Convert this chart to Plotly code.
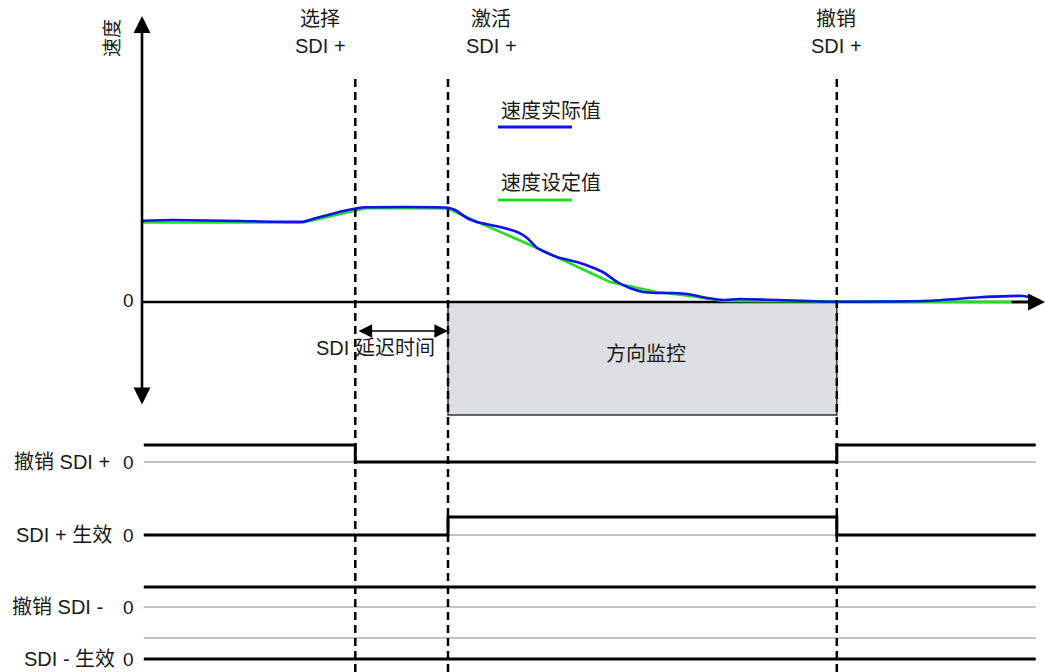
import plotly.graph_objects as go

W, H = 1046, 672

# ---------------- data ----------------
event_labels = ["选择", "激活", "撤销"]
event_sub = ["SDI +", "SDI +", "SDI +"]
event_t = [23.7, 34.0, 77.2]          # select / activate / revoke SDI+

speed_actual_t = [0, 3.4, 10.9, 17.9, 19.0, 22.0, 23.9, 25.0, 34.0, 34.8, 36.1,
                  37.2, 39.8, 41.7, 42.8, 43.9, 46.1, 48.7, 51.2, 52.8, 54.2, 55.7,
                  57.2, 59.0, 60.6, 62.8, 64.6, 66.4, 76.4, 87.6, 93.1, 97.9, 99.0, 99.8]
speed_actual = [81.3, 82, 81, 80.3, 83, 90.3, 93.7, 94.7, 94.3, 92, 84,
                80, 75, 70, 64, 54, 45, 39, 30, 20, 14, 10,
                9, 9, 8, 4, 2, 3, 0.3, 1.3, 4.7, 6, 4, 1]

speed_set_t = [0, 17.9, 25.0, 34.0, 36.4, 43.9, 52.0, 57.2, 60.9, 64.6, 99.8]
speed_set = [79.5, 79.5, 94, 93.5, 83.5, 54, 20, 10, 6, 1, 0]

signal_names = ["撤销 SDI +", "SDI + 生效", "撤销 SDI -", "SDI - 生效"]
signal_t = [[0.2, 23.7, 77.2, 99.3],
            [0.2, 34.0, 77.2, 99.3],
            [0.2, 99.3],
            [0.2, 99.3]]
signal_val = [[1, 0, 1, 1],
              [0, 1, 0, 0],
              [1, 1],
              [0, 0]]
signal_ref = [0, 0, 0, 1]             # level of the thin grey reference line

legend_names = ["速度实际值", "速度设定值"]
monitor_label = "方向监控"
delay_label = "SDI 延迟时间"
speed_label = "速度"

# ---------------- layout constants ----------------
X0, XS = 142, 9.0          # pixel of t=0, pixels per time unit
V0 = 302                   # pixel of speed 0 (1 speed unit = 1 px)
SPLIT = 420                # boundary between speed panel and signal panel
row_zero_px = [462, 535, 607, 659]
row_unit_px = [17, 18, 20, 21]


def tx(px):
    return (px - X0) / XS


def vy(py):
    return V0 - py


FONT = "Liberation Sans, Arial, Noto Sans CJK SC, sans-serif"
TXT = "#1a1a1a"

fig = go.Figure()

# speed curves
fig.add_trace(go.Scatter(x=speed_set_t, y=speed_set, mode="lines",
                         line=dict(color="#1ee01e", width=2.6),
                         xaxis="x", yaxis="y", hoverinfo="skip"))
fig.add_trace(go.Scatter(x=speed_actual_t, y=speed_actual, mode="lines",
                         line=dict(color="#1010f0", width=2.6, shape="spline", smoothing=0.5),
                         xaxis="x", yaxis="y", hoverinfo="skip"))

# signals
for i in range(4):
    ya = "y%d" % (i + 2)
    fig.add_trace(go.Scatter(x=[signal_t[i][0], signal_t[i][-1]],
                             y=[signal_ref[i], signal_ref[i]], mode="lines",
                             line=dict(color="#8a8a8a", width=1.2),
                             xaxis="x", yaxis=ya, hoverinfo="skip"))
    fig.add_trace(go.Scatter(x=signal_t[i], y=signal_val[i], mode="lines",
                             line=dict(color="black", width=3, shape="hv"),
                             xaxis="x", yaxis=ya, hoverinfo="skip"))

shapes = []
# direction monitoring box
shapes.append(dict(type="rect", xref="x", yref="y", x0=event_t[1], x1=event_t[2],
                   y0=0, y1=vy(415), fillcolor="#dcdfe3",
                   line=dict(color="#333333", width=1.5), layer="below"))
# time axis line
shapes.append(dict(type="line", xref="x", yref="y", x0=tx(142), x1=tx(1032), y0=0, y1=0,
                   line=dict(color="black", width=2.6), layer="below"))
# dashed event lines
for t in event_t:
    shapes.append(dict(type="line", xref="x", yref="paper", x0=t, x1=t,
                       y0=0, y1=1 - 78 / H,
                       line=dict(color="black", width=2.5, dash="8px,5px")))
# legend keys
shapes.append(dict(type="line", xref="x", yref="y", x0=tx(498), x1=tx(572),
                   y0=vy(127), y1=vy(127), line=dict(color="#1010f0", width=3)))
shapes.append(dict(type="line", xref="x", yref="y", x0=tx(498), x1=tx(572),
                   y0=vy(200), y1=vy(200), line=dict(color="#1ee01e", width=3)))

ann = []


def arrow(x, y, ax, ay, width, size, both=False):
    ann.append(dict(x=x, y=y, ax=ax, ay=ay, xref="x", yref="y", axref="x", ayref="y",
                    text="", showarrow=True, arrowhead=2, arrowsize=size,
                    arrowwidth=width, arrowcolor="black", standoff=0, startstandoff=0,
                    startarrowhead=2, startarrowsize=size,
                    arrowside="end+start" if both else "end"))


arrow(tx(142), vy(16), tx(142), vy(406), 2.6, 1.3, both=True)   # speed axis
arrow(tx(1045), 0, tx(1010), 0, 2.6, 1.3)                        # time axis head
arrow(tx(144), vy(421), tx(144), vy(672), 2.6, 1.3)              # signal axis
arrow(tx(448), vy(331), tx(357), vy(331), 1.6, 1.7, both=True)   # delay arrow


def text(s, px, py, size=19, xanchor="center", angle=0):
    ann.append(dict(text=s, x=px / W, y=1 - py / H, xref="paper", yref="paper",
                    showarrow=False, xanchor=xanchor, yanchor="middle",
                    textangle=angle, font=dict(family=FONT, size=size, color=TXT)))


text(speed_label, 112, 38, 19, angle=-90)
text("0", 128, 300, 19)
for lbl, sub, cx in zip(event_labels, event_sub, [320, 491, 836]):
    text(lbl, cx, 19, 20)
    text(sub, cx, 46, 20)
text(legend_names[0], 499, 111, 20, xanchor="left")
text(legend_names[1], 499, 183, 20, xanchor="left")
text(monitor_label, 646, 354, 20)
text(delay_label, 375, 348, 20)
label_right = [112, 114, 105, 117]
for i in range(4):
    text(signal_names[i], label_right[i], row_zero_px[i], 20, xanchor="right")
    text("0", 128, row_zero_px[i], 19)

layout = dict(
    width=W, height=H, margin=dict(l=0, r=0, t=0, b=0),
    paper_bgcolor="white", plot_bgcolor="rgba(0,0,0,0)", showlegend=False,
    xaxis=dict(range=[tx(0), tx(W)], domain=[0, 1], visible=False, fixedrange=True),
    yaxis=dict(range=[vy(SPLIT), vy(0)], domain=[1 - SPLIT / H, 1], visible=False,
               fixedrange=True),
    shapes=shapes, annotations=ann,
)
for i in range(4):
    z, u = row_zero_px[i], row_unit_px[i]
    ax = dict(range=[-(H - z) / u, (z - SPLIT) / u], domain=[0, 1 - SPLIT / H],
              visible=False, fixedrange=True)
    if i > 0:
        ax["overlaying"] = "y2"
    layout["yaxis%d" % (i + 2)] = ax

fig.update_layout(**layout)
fig.write_html("out.html", config={"displayModeBar": False},
               post_script="document.body.style.margin='0';document.body.style.overflow='hidden';")
